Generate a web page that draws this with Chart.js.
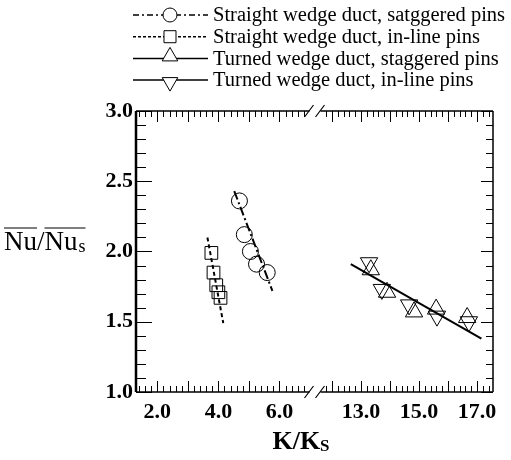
<!DOCTYPE html>
<html>
<head>
<meta charset="utf-8">
<script src="https://cdn.jsdelivr.net/npm/chart.js@4.4.0/dist/chart.umd.min.js"></script>
<style>
  html, body { margin: 0; background: #fff; }
</style>
</head>
<body>
<canvas id="chart" width="511" height="460"></canvas>
<script>
// series
const seriesNames = [
  "Straight wedge duct, satggered pins",
  "Straight wedge duct, in-line pins",
  "Turned wedge duct, staggered pins",
  "Turned wedge duct, in-line pins",
];
const circX = [4.69, 4.85, 5.05, 5.25, 5.6];
const circY = [2.36, 2.12, 2.0, 1.91, 1.85];
const sqX = [3.77, 3.84, 3.93, 4.0, 4.07];
const sqY = [1.99, 1.85, 1.76, 1.71, 1.67];
const upX = [13.34, 13.9, 14.83, 15.59, 16.66];
const upY = [1.87, 1.71, 1.57, 1.59, 1.53];
const dnX = [13.28, 13.72, 14.66, 15.62, 16.72];
const dnY = [1.92, 1.73, 1.62, 1.54, 1.5];

// fitted lines (end points)
const circFitX = [4.52, 5.77];
const circFitY = [2.43, 1.72];
const sqFitX = [3.64, 4.16];
const sqFitY = [2.1, 1.49];
const turnFitX = [12.65, 17.15];
const turnFitY = [1.91, 1.38];

// tick labels
const xTicksLeft = [2, 4, 6];
const xTicksRight = [13, 15, 17];
const yTicks = [1.0, 1.5, 2.0, 2.5, 3.0];

const serif = '"Liberation Serif", "DejaVu Serif", serif';
const dashDot = [9, 3, 2, 3];
const dashShort = [4, 3];

const pts = (xs, ys) => xs.map((x, i) => ({ x: x, y: ys[i] }));

const lineSet = (xs, ys, axis, dash) => ({
  type: "line",
  data: pts(xs, ys),
  xAxisID: axis,
  borderColor: "#000",
  borderWidth: 2,
  borderDash: dash,
  pointRadius: 0,
  fill: false,
});

const markSet = (label, xs, ys, axis, style, r, rot) => ({
  type: "scatter",
  label: label,
  data: pts(xs, ys),
  xAxisID: axis,
  pointStyle: style,
  pointRadius: r,
  pointRotation: rot,
  pointBorderColor: "#000",
  pointBackgroundColor: "rgba(0,0,0,0)",
  pointBorderWidth: 1,
  showLine: false,
});

// legend entries: line dash + marker
const legendItems = [
  { dash: [6, 3, 2, 3], style: "circle", r: 7, rot: 0 },
  { dash: [3, 2], style: "rect", r: 8.5, rot: 0 },
  { dash: [], style: "triangle", r: 9, rot: 0 },
  { dash: [], style: "triangle", r: 9, rot: 180 },
];

const decorPlugin = {
  id: "decor",
  afterDraw(chart) {
    const { ctx, chartArea: a } = chart;
    const x1 = chart.scales.x1, x2 = chart.scales.x2, y = chart.scales.y;
    const brk = x1.right;
    ctx.save();
    ctx.strokeStyle = "#000";
    ctx.setLineDash([]);

    // inward ticks
    ctx.lineWidth = 1;
    ctx.beginPath();
    for (let v = 1.0; v <= 3.0001; v += 0.1) {
      const py = Math.round(y.getPixelForValue(v)) + 0.5;
      const major = Math.abs(v * 2 - Math.round(v * 2)) < 1e-6;
      ctx.moveTo(a.left, py);
      ctx.lineTo(a.left + (major ? 16 : 10), py);
      ctx.moveTo(a.right, py);
      ctx.lineTo(a.right - (major ? 12 : 7), py);
    }
    [x1, x2].forEach((s) => {
      const start = Math.ceil(s.min / 0.2) * 0.2;
      for (let v = start; v < s.max - 0.05; v += 0.2) {
        const px = Math.round(s.getPixelForValue(v)) + 0.5;
        if (Math.abs(px - brk) < 8) continue;
        const major = Math.abs(v - Math.round(v)) < 1e-6;
        const len = major ? 11 : 6;
        ctx.moveTo(px, a.bottom);
        ctx.lineTo(px, a.bottom - len);
        ctx.moveTo(px, a.top);
        ctx.lineTo(px, a.top + len);
      }
    });
    ctx.stroke();

    // frame with break
    ctx.lineWidth = 2.5;
    ctx.beginPath();
    ctx.moveTo(a.left, a.top);
    ctx.lineTo(a.left, a.bottom);
    ctx.stroke();
    ctx.lineWidth = 1.5;
    ctx.beginPath();
    ctx.moveTo(a.right, a.top);
    ctx.lineTo(a.right, a.bottom);
    [a.top, a.bottom].forEach((py) => {
      ctx.moveTo(a.left, py);
      ctx.lineTo(brk - 5, py);
      ctx.moveTo(brk + 6, py);
      ctx.lineTo(a.right, py);
    });
    ctx.stroke();
    ctx.lineWidth = 1.2;
    ctx.beginPath();
    [a.top, a.bottom].forEach((py) => {
      ctx.moveTo(brk - 10, py + 6);
      ctx.lineTo(brk - 1, py - 6);
      ctx.moveTo(brk + 1, py + 6);
      ctx.lineTo(brk + 10, py - 6);
    });
    ctx.stroke();

    // axis titles
    ctx.fillStyle = "#000";
    ctx.textBaseline = "alphabetic";
    ctx.textAlign = "left";
    ctx.font = "27px " + serif;
    let tx = 4, ty = 250;
    const w1 = ctx.measureText("Nu").width;
    const w2 = ctx.measureText("Nu/").width;
    ctx.fillText("Nu/Nu", tx, ty);
    const wAll = ctx.measureText("Nu/Nu").width;
    ctx.font = "18px " + serif;
    ctx.fillText("s", tx + wAll + 1, ty + 2);
    const ws = ctx.measureText("s").width;
    ctx.lineWidth = 1;
    ctx.beginPath();
    ctx.moveTo(tx, ty - 22);
    ctx.lineTo(tx + w1, ty - 22);
    ctx.moveTo(tx + w2, ty - 22);
    ctx.lineTo(tx + wAll + ws + 1, ty - 22);
    ctx.stroke();

    ctx.font = "bold 26px " + serif;
    const kw = ctx.measureText("K/K").width;
    ctx.font = "bold 17px " + serif;
    const sw = ctx.measureText("S").width;
    const kx = 301 - (kw + sw) / 2;
    ctx.font = "bold 26px " + serif;
    ctx.fillText("K/K", kx, 449);
    ctx.font = "bold 17px " + serif;
    ctx.fillText("S", kx + kw, 451);

    // legend
    ctx.font = "20.5px " + serif;
    ctx.textBaseline = "middle";
    legendItems.forEach((it, i) => {
      const ly = 15 + i * 21.7;
      ctx.lineWidth = 1.5;
      ctx.setLineDash(it.dash);
      ctx.beginPath();
      ctx.moveTo(133, ly);
      ctx.lineTo(208, ly);
      ctx.stroke();
      ctx.setLineDash([]);
      ctx.fillStyle = "#fff";
      ctx.lineWidth = 1;
      const my = it.rot ? ly + 2 : ly - 2;
      Chart.helpers.drawPoint(ctx, { pointStyle: it.style, radius: it.r, rotation: it.rot, borderWidth: 1 }, 170, it.style === "triangle" ? my : ly);
      ctx.fillStyle = "#000";
      ctx.fillText(seriesNames[i], 213, ly + 1);
    });
    ctx.restore();
  },
};

const tickFont = { family: serif, size: 22, weight: "bold" };

new Chart(document.getElementById("chart"), {
  data: {
    datasets: [
      lineSet(circFitX, circFitY, "x1", dashDot),
      lineSet(sqFitX, sqFitY, "x1", dashShort),
      lineSet(turnFitX, turnFitY, "x2", []),
      markSet(seriesNames[0], circX, circY, "x1", "circle", 8, 0),
      markSet(seriesNames[1], sqX, sqY, "x1", "rect", 9, 0),
      markSet(seriesNames[2], upX, upY, "x2", "triangle", 10, 0),
      markSet(seriesNames[3], dnX, dnY, "x2", "triangle", 10, 180),
    ],
  },
  options: {
    responsive: false,
    animation: false,
    layout: { padding: { top: 111, right: 18, left: 0, bottom: 0 } },
    plugins: { legend: { display: false }, tooltip: { enabled: false } },
    scales: {
      x1: {
        type: "linear",
        position: "bottom",
        stack: "kx",
        stackWeight: 1,
        min: 1.3,
        max: 7.15,
        afterBuildTicks: (s) => { s.ticks = xTicksLeft.map((v) => ({ value: v })); },
        afterFit: (s) => { s.height = 68; },
        grid: { display: false, drawTicks: false },
        border: { display: false },
        ticks: { font: tickFont, color: "#000", padding: 7, maxRotation: 0, callback: (v) => v.toFixed(1) },
      },
      x2: {
        type: "linear",
        position: "bottom",
        stack: "kx",
        stackWeight: 1,
        min: 11.4,
        max: 17.55,
        afterBuildTicks: (s) => { s.ticks = xTicksRight.map((v) => ({ value: v })); },
        afterFit: (s) => { s.height = 68; },
        grid: { display: false, drawTicks: false },
        border: { display: false },
        ticks: { font: tickFont, color: "#000", padding: 7, maxRotation: 0, callback: (v) => v.toFixed(1) },
      },
      y: {
        type: "linear",
        position: "left",
        min: 1.0,
        max: 3.0,
        afterBuildTicks: (s) => { s.ticks = yTicks.map((v) => ({ value: v })); },
        afterFit: (s) => { s.width = 136; },
        grid: { display: false, drawTicks: false },
        border: { display: false },
        ticks: { font: tickFont, color: "#000", padding: 3, callback: (v) => v.toFixed(1) },
      },
    },
  },
  plugins: [decorPlugin],
});
</script>
</body>
</html>
